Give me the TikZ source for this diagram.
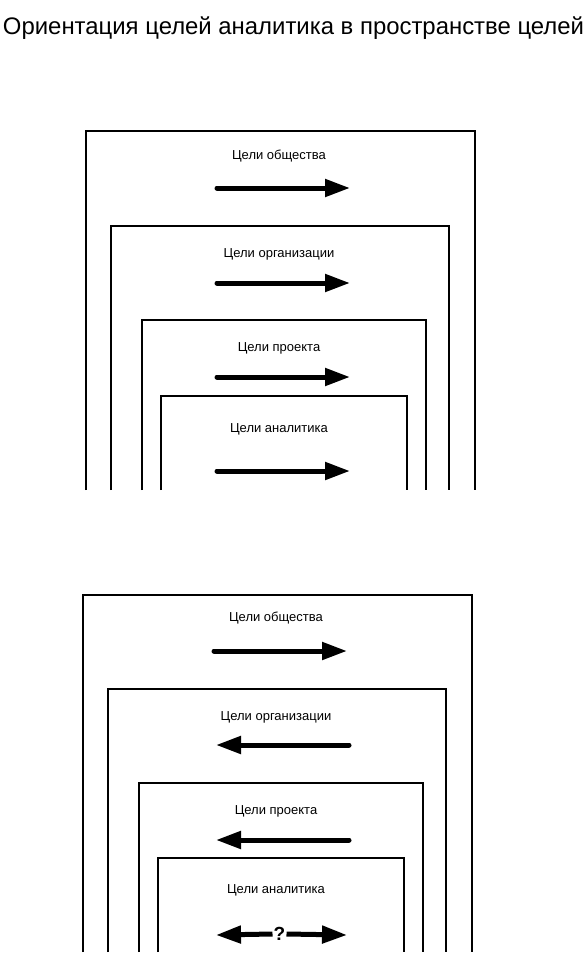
\documentclass[tikz,border=0pt]{standalone}
\usepackage{fontspec}
\setmainfont{Liberation Sans}
\usetikzlibrary{arrows.meta}
\begin{document}
\begin{tikzpicture}[x=1pt,y=-1pt,
  frame/.style={line width=1.3pt},
  lbl/.style={font=\fontsize{13}{15}\selectfont, inner sep=0pt},
  goal/.style={line width=5pt, line cap=round, -{Triangle[length=25pt,width=17pt]}},
  shaft/.style={line width=5pt, -{Triangle[length=25pt,width=17pt]}}]
\useasboundingbox (0,0) rectangle (587,955);
\node[inner sep=0pt, font=\fontsize{23.9}{27}\selectfont] (title) at (293.5,28) {Ориентация целей аналитика в пространстве целей};
% ---------- upper diagram ----------
\draw[frame] (86,490) |- (475,131) -- (475,490);
\draw[frame] (111,490) |- (449,226) -- (449,490);
\draw[frame] (142,490) |- (426,320) -- (426,490);
\draw[frame] (161,490) |- (407,396) -- (407,490);
\node[lbl] (a1) at (279,156) {Цели общества};
\node[lbl] (a2) at (279,254) {Цели организации};
\node[lbl] (a3) at (279,348) {Цели проекта};
\node[lbl] (a4) at (279,429) {Цели аналитика};
\coordinate (a1s) at (217,188); \coordinate (a1e) at (350,188);
\coordinate (a2s) at (217,283); \coordinate (a2e) at (350,283);
\coordinate (a3s) at (217,377); \coordinate (a3e) at (350,377);
\coordinate (a4s) at (217,471); \coordinate (a4e) at (350,471);
\draw[goal] (a1s) -- (a1e);
\draw[goal] (a2s) -- (a2e);
\draw[goal] (a3s) -- (a3e);
\draw[goal] (a4s) -- (a4e);
% ---------- lower diagram ----------
\draw[frame] (83,952) |- (472,595) -- (472,952);
\draw[frame] (108,952) |- (446,689) -- (446,952);
\draw[frame] (139,952) |- (423,783) -- (423,952);
\draw[frame] (158,952) |- (404,858) -- (404,952);
\node[lbl] (b1) at (276,618) {Цели общества};
\node[lbl] (b2) at (276,717) {Цели организации};
\node[lbl] (b3) at (276,811) {Цели проекта};
\node[lbl] (b4) at (276,890) {Цели аналитика};
\coordinate (b1s) at (214,651); \coordinate (b1e) at (347,651);
\coordinate (b2s) at (349,745); \coordinate (b2e) at (216,745);
\coordinate (b3s) at (349,840); \coordinate (b3e) at (216,840);
\coordinate (b4l) at (216,935); \coordinate (b4r) at (347,935);
\draw[goal] (b1s) -- (b1e);
\draw[goal] (b2s) -- (b2e);
\draw[goal] (b3s) -- (b3e);
\node[inner sep=0pt, font=\fontsize{19}{21}\selectfont\bfseries] (q) at (279.5,934) {?};
\draw[shaft] ([xshift=-1pt]q.west) -- (b4l);
\draw[shaft] ([xshift=1pt]q.east) -- (b4r);
\end{tikzpicture}
\end{document}
